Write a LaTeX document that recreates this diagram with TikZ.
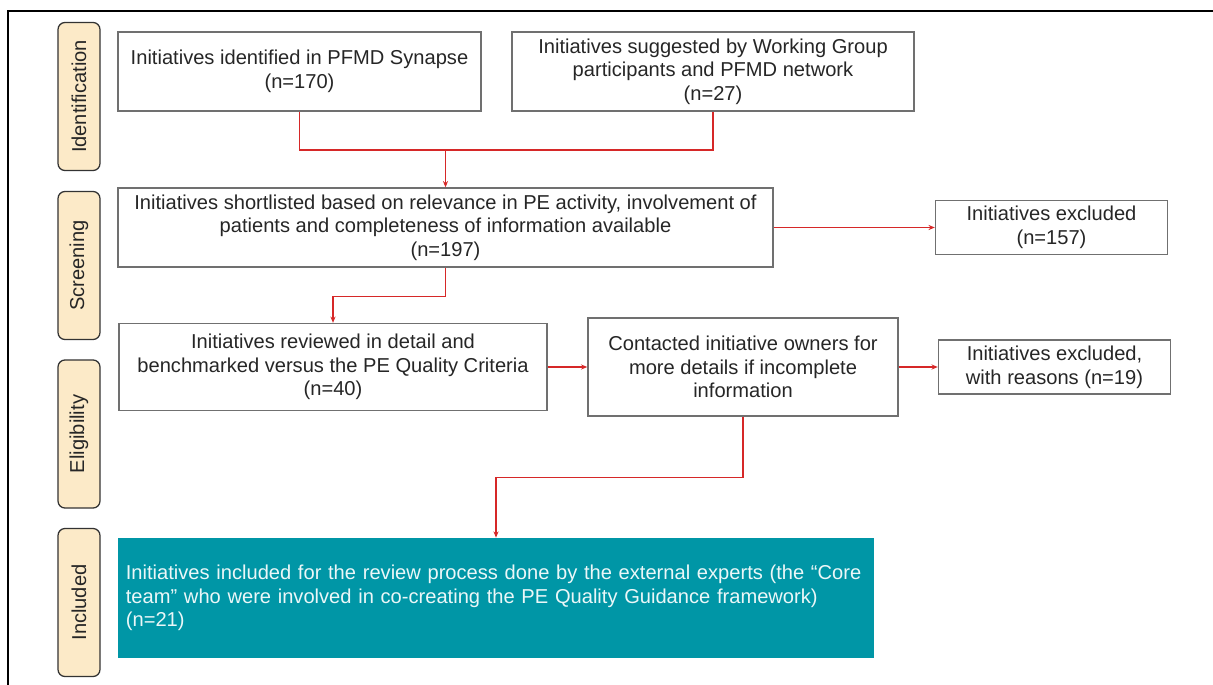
\documentclass[tikz,border=0pt]{standalone}
\usepackage{fontspec}
\setmainfont{Liberation Sans}
\usepackage{tikz}
\usetikzlibrary{
	arrows.meta,
	positioning
}
\definecolor{flowred}{RGB}{214,40,40}
\definecolor{boxgray}{RGB}{112,112,112}
\definecolor{phasefill}{RGB}{252,234,200}
\definecolor{inclteal}{RGB}{0,150,166}

\begin{document}
\begin{tikzpicture}[
			x=0.025cm, y=-0.025cm,
			font=\fontsize{14.3}{16.8}\selectfont,
			stage/.style={draw=boxgray, line width=0.9pt, inner sep=2pt, align=center, text=black!85},
			excl/.style={stage, minimum width=5.8cm, minimum height=1.35cm},
			phase/.style={draw=black!80, fill=phasefill, rounded corners=5pt, line width=0.9pt, rotate=90, minimum width=3.7cm, minimum height=1.05cm, inner sep=0pt, text=black!85},
			incl/.style={fill=inclteal, text=white!92!inclteal, align=left, text width=18.5cm, inner xsep=0.2cm, inner ysep=0.3cm, minimum height=3cm},
			>={Stealth[length=4.5pt,width=3.6pt]},
			fl/.style={->, draw=flowred, line width=0.85pt}
		]
		\useasboundingbox (0,0) rectangle (1213,685);
		\draw[line width=1pt] (1213,11) -- (8,11) -- (8,685);

		\node[phase] (p1) at (79,96.5) {Identification};
		\node[phase] (p2) at (79,265.5) {Screening};
		\node[phase] (p3) at (79,434) {Eligibility};
		\node[phase] (p4) at (79,602.5) {Included};

		\node[stage, minimum width=9.075cm, minimum height=1.975cm] (a) at (299.5,71.5) {Initiatives identified in PFMD Synapse\\ (n=170)};
		\node[stage, minimum width=10.05cm, minimum height=1.975cm] (b) at (713,71.5) {Initiatives suggested by Working Group\\ participants and PFMD network\\ (n=27)};
		\node[stage, minimum width=16.375cm, minimum height=1.975cm] (s) at (445.5,227.5) {Initiatives shortlisted based on relevance in PE activity, involvement of\\ patients and completeness of information available\\ (n=197)};
		\node[excl] (x1) at (1051.5,227.5) {Initiatives excluded\\ (n=157)};
		\node[stage, minimum width=10.7cm, minimum height=2.175cm] (r) at (333,367) {Initiatives reviewed in detail and\\ benchmarked versus the PE Quality Criteria\\ (n=40)};
		\node[stage, minimum width=7.75cm, minimum height=2.45cm] (c) at (743,367) {Contacted initiative owners for\\ more details if incomplete\\ information};
		\node[excl] (x2) at (1054.5,367) {Initiatives excluded,\\ with reasons (n=19)};
		\node[incl] (t) at (496,598) {Initiatives included for the review process done by the external experts (the “Core\\ team” who were involved in co-creating the PE Quality Guidance framework)\\ (n=21)};

		\coordinate (j1) at (445.5,150);
		\draw[fl, -] (a.south) |- (j1) -| (b.south);
		\draw[fl] (j1) -- (j1 |- s.north);
		\draw[fl] (s.east) -- (x1.west);
		\draw[fl] (s.south) -- ++(0,29) -| (r.north);
		\draw[fl] (r.east) -- (c.west);
		\draw[fl] (c.east) -- (x2.west);
		\draw[fl] (c.south) -- ++(0,61) -| (t.north);
	\end{tikzpicture}
\end{document}
